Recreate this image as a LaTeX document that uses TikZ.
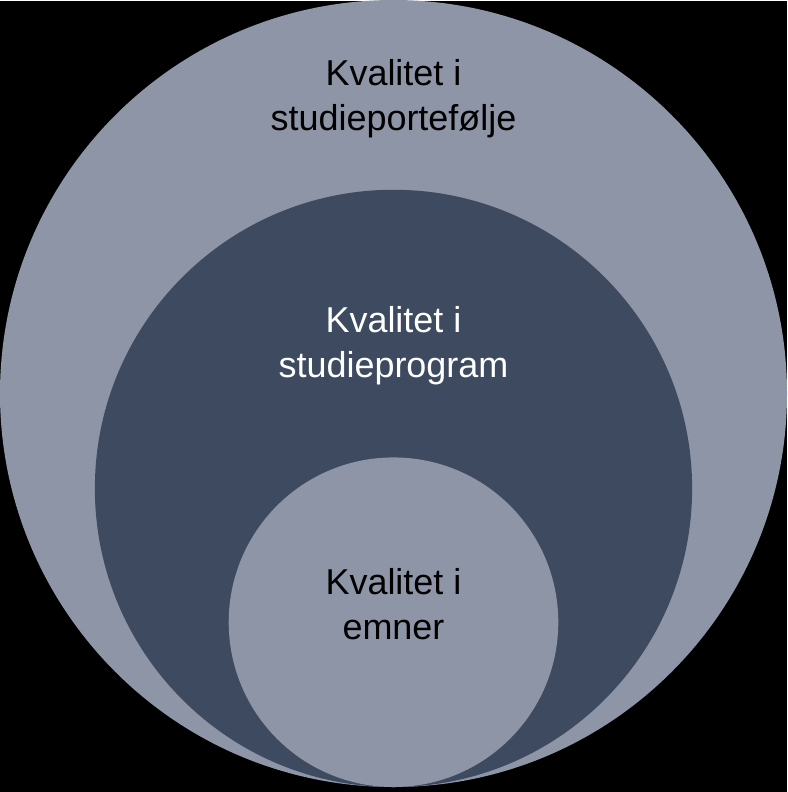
\documentclass[tikz,border=0pt]{standalone}
\usepackage{fontspec}
\setmainfont{Liberation Sans}
\usepackage{xcolor}
\definecolor{ringlight}{HTML}{8E95A6}
\definecolor{ringdark}{HTML}{3D4A60}

\begin{document}
\begin{tikzpicture}[
    x=1pt, y=-1pt,
    ring/.style={circle, fill=#1, draw=none, inner sep=0pt},
    lbl/.style={align=center, font=\fontsize{36}{45}\selectfont, text=#1},
]

\fill[black] (0,0) rectangle (788,792);

\node[ring=ringlight, minimum size=788pt] (portfolio) at (394,393) {};
\node[ring=ringdark, minimum size=598pt] (program) at (394,488) {};
\node[ring=ringlight, minimum size=330pt] (course) at (394,622) {};

\node[lbl=black] (portfoliotxt) at (394,98) {Kvalitet i\\studieportefølje};
\node[lbl=white] (programtxt) at (394,345) {Kvalitet i\\studieprogram};
\node[lbl=black] (coursetxt) at (394,604) {Kvalitet i\\emner};

\end{tikzpicture}
\end{document}
